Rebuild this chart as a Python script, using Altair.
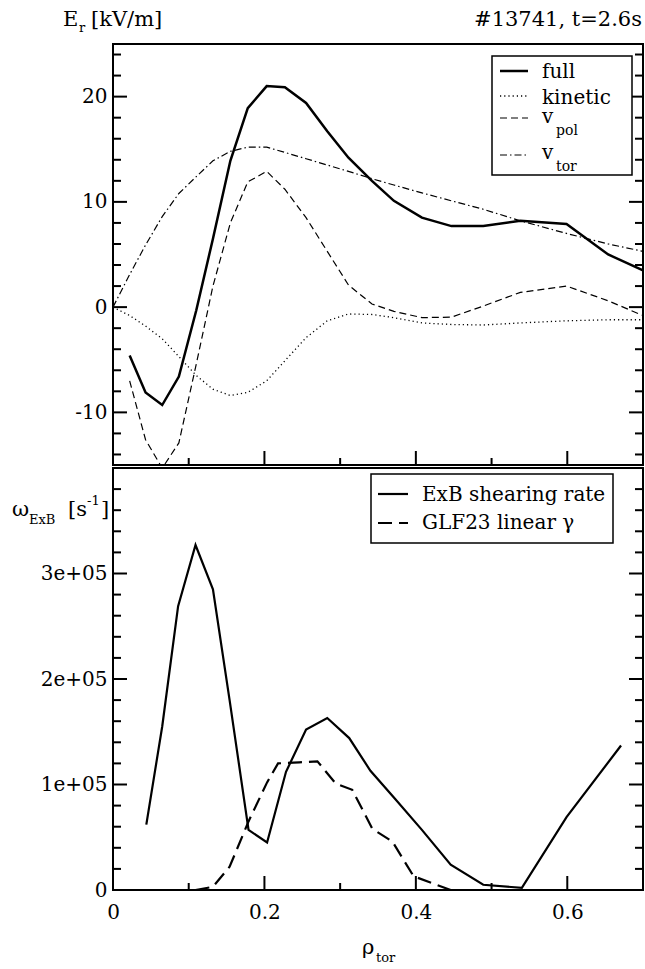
import altair as alt
import pandas as pd

# ---------------- data ----------------
full_x = [0.022, 0.043, 0.065, 0.087, 0.110, 0.132, 0.155, 0.178, 0.203, 0.227, 0.255,
          0.283, 0.311, 0.342, 0.371, 0.408, 0.447, 0.489, 0.538, 0.599, 0.654, 0.700]
full_y = [-4.6, -8.1, -9.3, -6.6, -0.3, 6.5, 13.9, 18.9, 21.0, 20.9, 19.4,
          16.7, 14.2, 12.0, 10.1, 8.5, 7.7, 7.7, 8.2, 7.9, 5.0, 3.5]

kin_x = [0.0, 0.022, 0.043, 0.065, 0.087, 0.110, 0.132, 0.155, 0.178, 0.203, 0.227, 0.255,
         0.283, 0.311, 0.342, 0.371, 0.408, 0.447, 0.489, 0.538, 0.599, 0.654, 0.700]
kin_y = [0.0, -0.8, -1.8, -3.0, -4.7, -6.5, -7.8, -8.4, -8.1, -7.0, -5.1, -2.9,
         -1.3, -0.65, -0.7, -1.0, -1.5, -1.65, -1.7, -1.5, -1.3, -1.2, -1.2]

vpol_x = [0.022, 0.043, 0.065, 0.087, 0.110, 0.132, 0.155, 0.178, 0.203, 0.227, 0.255,
          0.283, 0.311, 0.342, 0.371, 0.408, 0.447, 0.489, 0.538, 0.599, 0.654, 0.700]
vpol_y = [-7.0, -12.6, -15.3, -12.9, -5.4, 2.0, 8.0, 11.9, 12.9, 11.2, 8.5,
          5.3, 2.1, 0.3, -0.4, -1.0, -0.95, 0.1, 1.4, 2.0, 0.6, -0.8]

vtor_x = [0.0, 0.022, 0.043, 0.065, 0.087, 0.110, 0.132, 0.155, 0.178, 0.203, 0.227, 0.255,
          0.283, 0.311, 0.342, 0.371, 0.408, 0.447, 0.489, 0.538, 0.599, 0.654, 0.700]
vtor_y = [0.0, 3.1, 5.9, 8.6, 10.8, 12.4, 13.9, 14.8, 15.2, 15.2, 14.7, 14.1,
          13.5, 12.9, 12.2, 11.6, 10.85, 10.1, 9.3, 8.2, 7.0, 6.0, 5.3]

exb_x = [0.044, 0.065, 0.086, 0.109, 0.132, 0.154, 0.179, 0.2035, 0.2285, 0.255,
         0.283, 0.312, 0.340, 0.373, 0.408, 0.446, 0.489, 0.540, 0.599, 0.671]
exb_y = [0.62e5, 1.55e5, 2.69e5, 3.27e5, 2.85e5, 1.80e5, 0.57e5, 0.45e5, 1.12e5, 1.52e5,
         1.63e5, 1.44e5, 1.13e5, 0.86e5, 0.57e5, 0.24e5, 0.05e5, 0.02e5, 0.69e5, 1.37e5]

glf_x = [0.109, 0.132, 0.154, 0.179, 0.2035, 0.218, 0.246, 0.270, 0.294, 0.316,
         0.3425, 0.369, 0.397, 0.446]
glf_y = [0.0, 0.03e5, 0.22e5, 0.65e5, 1.02e5, 1.20e5, 1.21e5, 1.22e5, 1.01e5, 0.95e5,
         0.58e5, 0.46e5, 0.13e5, 0.0]

x_major = [0.2, 0.4, 0.6]
x_minor = [0.1, 0.3, 0.5]
x_labels = [0, 0.2, 0.4, 0.6]
top_y_major = [-10, 0, 10, 20]
top_y_minor = [-14, -12, -8, -6, -4, -2, 2, 4, 6, 8, 12, 14, 16, 18, 22, 24]
bot_y_major = [1e5, 2e5, 3e5]
bot_y_labels = [0, 1e5, 2e5, 3e5]
bot_y_minor = [2e4, 4e4, 6e4, 8e4, 1.2e5, 1.4e5, 1.6e5, 1.8e5, 2.2e5, 2.4e5, 2.6e5, 2.8e5,
               3.2e5, 3.4e5, 3.6e5, 3.8e5]

# ---------------- layout ----------------
W = 530
H1 = 421
H2 = 422
SERIF = "DejaVu Serif"
LAB = 20
TFS = 21
LEG = 20

xscale = alt.Scale(domain=[0, 0.7], nice=False, zero=False)
y1scale = alt.Scale(domain=[-15, 25], nice=False, zero=False)
y2scale = alt.Scale(domain=[0, 4e5], nice=False, zero=False)

X_top = alt.X("x:Q", scale=xscale, axis=None)
X_bot = alt.X("x:Q", scale=xscale, axis=alt.Axis(
    values=x_labels, format="~g", labelFont=SERIF, labelFontSize=LAB, labelColor="black",
    ticks=False, tickSize=0, domain=False, grid=False, labelPadding=12, title=None,
    labelFlush=False, labelOverlap=False))
Y_top = alt.Y("y:Q", scale=y1scale, axis=alt.Axis(
    values=top_y_major, labelExpr="'' + datum.value", labelFont=SERIF, labelFontSize=LAB,
    labelColor="black", ticks=False, tickSize=0, domain=False, grid=False, labelPadding=6,
    title=None, labelFlush=False, labelOverlap=False))
Y_bot = alt.Y("y:Q", scale=y2scale, axis=alt.Axis(
    values=bot_y_labels,
    labelExpr="datum.value == 0 ? '0' : format(datum.value / 100000, 'd') + 'e+05'",
    labelFont=SERIF, labelFontSize=LAB, labelColor="black", ticks=False, tickSize=0,
    domain=False, grid=False, labelPadding=6, title=None, labelFlush=False,
    labelOverlap=False))


def series(xs, ys, X, Y, dash=None, width=1.2):
    df = pd.DataFrame({"x": xs, "y": ys})
    kw = dict(color="black", strokeWidth=width, clip=True, strokeJoin="miter")
    if dash:
        kw["strokeDash"] = dash
    return alt.Chart(df).mark_line(**kw).encode(x=X, y=Y)


def xticks(vals, X, H, length):
    df = pd.DataFrame({"x": vals})
    return alt.Chart(df).mark_rule(color="black", strokeWidth=2).encode(
        x=X, y=alt.value(H), y2=alt.value(H - length))


def yticks(vals, Y, length):
    df = pd.DataFrame({"y": vals})
    base = alt.Chart(df)
    left = base.mark_rule(color="black", strokeWidth=2).encode(
        y=Y, x=alt.value(0), x2=alt.value(length))
    right = base.mark_rule(color="black", strokeWidth=2).encode(
        y=Y, x=alt.value(W), x2=alt.value(W - length))
    return [left, right]


def label(txt, x, y, size, align="left"):
    df = pd.DataFrame({"t": [txt]})
    return alt.Chart(df).mark_text(
        font=SERIF, fontSize=size, color="black", align=align, baseline="alphabetic"
    ).encode(x=alt.value(x), y=alt.value(y), text="t:N")


def hline(x1, x2, y, dash=None, width=1.2):
    df = pd.DataFrame({"t": [0]})
    kw = dict(color="black", strokeWidth=width)
    if dash:
        kw["strokeDash"] = dash
    return alt.Chart(df).mark_rule(**kw).encode(
        x=alt.value(x1), x2=alt.value(x2), y=alt.value(y))


def box(x1, x2, y1, y2):
    df = pd.DataFrame({"t": [0]})
    return alt.Chart(df).mark_rect(fill="white", stroke="black", strokeWidth=1.5).encode(
        x=alt.value(x1), x2=alt.value(x2), y=alt.value(y1), y2=alt.value(y2))


DOT = [1.2, 3]
DASH = [7, 4]
DASHDOT = [7, 3, 1.5, 3]
LDASH = [14, 7]

# ---------------- top panel ----------------
top_layers = [
    series(vtor_x, vtor_y, X_top, Y_top, DASHDOT, 1.2),
    series(kin_x, kin_y, X_top, Y_top, DOT, 1.3),
    series(vpol_x, vpol_y, X_top, Y_top, DASH, 1.2),
    series(full_x, full_y, X_top, Y_top, None, 2.5),
    xticks(x_major, X_top, H1, 14),
    xticks(x_minor, X_top, H1, 7),
]
top_layers += yticks(top_y_major, Y_top, 14)
top_layers += yticks(top_y_minor, Y_top, 8)
top_layers += [
    box(379, 519, 12, 131),
    hline(387, 415, 27, None, 2.5), label("full", 429, 34, LEG),
    hline(387, 415, 52, DOT, 1.3), label("kinetic", 429, 60, LEG),
    hline(387, 415, 74, DASH, 1.2), label("v", 429, 79, LEG), label("pol", 443, 91, 14),
    hline(387, 415, 111, DASHDOT, 1.2), label("v", 429, 115, LEG), label("tor", 443, 127, 14),
    label("E", -50, -18, TFS), label("r", -34, -12, 13), label("[kV/m]", -22, -18, TFS),
    label("#13741, t=2.6s", W - 1, -18, TFS, align="right"),
]
top = alt.layer(*top_layers).properties(width=W, height=H1)

# ---------------- bottom panel ----------------
bot_layers = [
    series(glf_x, glf_y, X_bot, Y_bot, LDASH, 2.2),
    series(exb_x, exb_y, X_bot, Y_bot, None, 2.2),
    xticks(x_major, X_bot, H2, 14),
    xticks(x_minor, X_bot, H2, 7),
]
bot_layers += yticks(bot_y_major, Y_bot, 14)
bot_layers += yticks(bot_y_minor, Y_bot, 8)
bot_layers += [
    box(258, 500, 6, 75),
    hline(265, 295, 26, None, 2.2), label("ExB shearing rate", 309, 33, LEG),
    hline(265, 295, 55, LDASH, 2.2), label("GLF23 linear γ", 309, 61, LEG),
    label("ω", -101, 48, 21), label("ExB", -84, 56, 13),
    label("[s", -45, 48, TFS), label("-1", -26, 37, 13), label("]", -12, 48, TFS),
    label("ρ", 249, 486, 21), label("tor", 263, 494, 13),
]
bot = alt.layer(*bot_layers).properties(width=W, height=H2)

chart = alt.vconcat(top, bot, spacing=0).properties(
    padding={"left": 11, "top": 8, "right": 0, "bottom": 0},
    background="white",
).configure_view(stroke="black", strokeWidth=2)

chart.save("out.html", embed_options={"renderer": "svg", "actions": False})
